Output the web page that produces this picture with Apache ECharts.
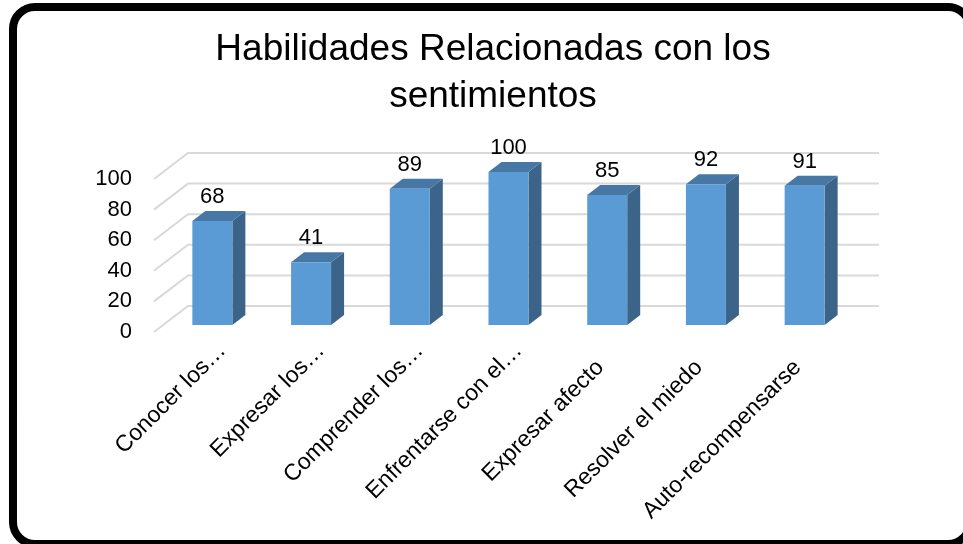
<!DOCTYPE html>
<html>
<head>
<meta charset="utf-8">
<script src="https://cdn.jsdelivr.net/npm/echarts@6/dist/echarts.min.js"></script>
<style>
  html, body { margin: 0; padding: 0; background: #fff; }
  #chart { width: 963px; height: 544px; }
</style>
</head>
<body>
<div id="chart"></div>
<script>
const categories = ['Conocer los…', 'Expresar los…', 'Comprender los…', 'Enfrentarse con el…',
    'Expresar afecto', 'Resolver el miedo', 'Auto-recompensarse'];
const values = [68, 41, 89, 100, 85, 92, 91];
const yTicks = [0, 20, 40, 60, 80, 100];

// pseudo 3d offsets (front plane -> bar front, bar depth, back wall)
const barShift = [9, -7];
const barDepth = [13, -10];
const wallDepth = [34, -26];
const barHalf = 20;
const font = 'Liberation Sans, Arial, sans-serif';

const chart = echarts.init(document.getElementById('chart'));

function renderGrid(params, api) {
    const cs = params.coordSys;
    const y = api.coord([0, api.value(1)])[1];
    return {
        type: 'polyline',
        shape: {
            points: [
                [cs.x, y],
                [cs.x + wallDepth[0], y + wallDepth[1]],
                [cs.x + cs.width + wallDepth[0], y + wallDepth[1]]
            ]
        },
        style: { stroke: '#d9d9d9', lineWidth: 2, fill: null }
    };
}

function renderBar(params, api) {
    const idx = api.value(0);
    const top = api.coord([idx, api.value(1)]);
    const base = api.coord([idx, 0]);
    const cx = top[0] + barShift[0];
    const xl = cx - barHalf, xr = cx + barHalf;
    const yt = top[1] + barShift[1], yb = base[1] + barShift[1];
    const dx = barDepth[0], dy = barDepth[1];
    return {
        type: 'group',
        children: [
            {
                type: 'polygon',
                shape: { points: [[xr, yt], [xr + dx, yt + dy], [xr + dx, yb + dy], [xr, yb]] },
                style: { fill: '#3b6488' }
            },
            {
                type: 'polygon',
                shape: { points: [[xl, yt], [xl + dx, yt + dy], [xr + dx, yt + dy], [xr, yt]] },
                style: { fill: '#4677a5' }
            },
            {
                type: 'rect',
                shape: { x: xl, y: yt, width: xr - xl, height: yb - yt },
                style: { fill: '#5b9bd5' }
            },
            {
                type: 'text',
                style: {
                    text: String(api.value(1)),
                    x: cx, y: yt - 13,
                    align: 'center', verticalAlign: 'bottom',
                    font: '22px ' + font,
                    fill: '#000'
                }
            }
        ]
    };
}

// the category labels sit on a second, slightly shifted grid (as in the original, the
// cut-off labels run past their tick a bit further than the full ones)
const option = {
    backgroundColor: '#fff',
    animation: false,
    title: {
        text: 'Habilidades Relacionadas con los\nsentimientos',
        left: 493,
        top: 26,
        padding: 0,
        textAlign: 'center',
        textStyle: {
            fontSize: 37,
            lineHeight: 47,
            fontWeight: 'normal',
            fontFamily: font,
            color: '#000'
        }
    },
    grid: [
        { left: 154, right: 118, top: 179, bottom: 212 },
        { left: 173, right: 99, top: 179, bottom: 212 }
    ],
    xAxis: [
        {
            type: 'category',
            data: categories,
            axisLine: { show: false },
            axisTick: { show: false },
            axisLabel: { show: false }
        },
        {
            type: 'category',
            gridIndex: 1,
            data: categories,
            axisLine: { show: false },
            axisTick: { show: false },
            axisLabel: {
                interval: 0,
                rotate: 45,
                margin: 15,
                fontSize: 23,
                fontFamily: font,
                color: '#000',
                formatter: v => v.endsWith('…') ? '{t|' + v + '}' : '{n|' + v + '}',
                rich: {
                    t: { fontSize: 23, fontFamily: font, color: '#000' },
                    n: { fontSize: 23, fontFamily: font, color: '#000', padding: [0, 24, 0, 0] }
                }
            }
        }
    ],
    yAxis: [
        {
            type: 'value',
            min: 0,
            max: 100,
            interval: 20,
            axisLine: { show: false },
            axisTick: { show: false },
            splitLine: { show: false },
            axisLabel: { margin: 22, fontSize: 22, fontFamily: font, color: '#000' }
        },
        { type: 'value', gridIndex: 1, min: 0, max: 100, show: false }
    ],
    graphic: [{
        type: 'rect',
        shape: { x: 13, y: 7, width: 957, height: 537, r: 22 },
        style: { fill: null, stroke: '#000', lineWidth: 8 },
        z: 100
    }],
    series: [
        {
            type: 'custom',
            renderItem: renderGrid,
            encode: { x: 0, y: 1 },
            data: yTicks.map(v => [0, v]),
            z: 1,
            silent: true
        },
        {
            type: 'custom',
            renderItem: renderBar,
            encode: { x: 0, y: 1 },
            data: values.map((v, i) => [i, v]),
            z: 2
        }
    ]
};
chart.setOption(option);
</script>
</body>
</html>
